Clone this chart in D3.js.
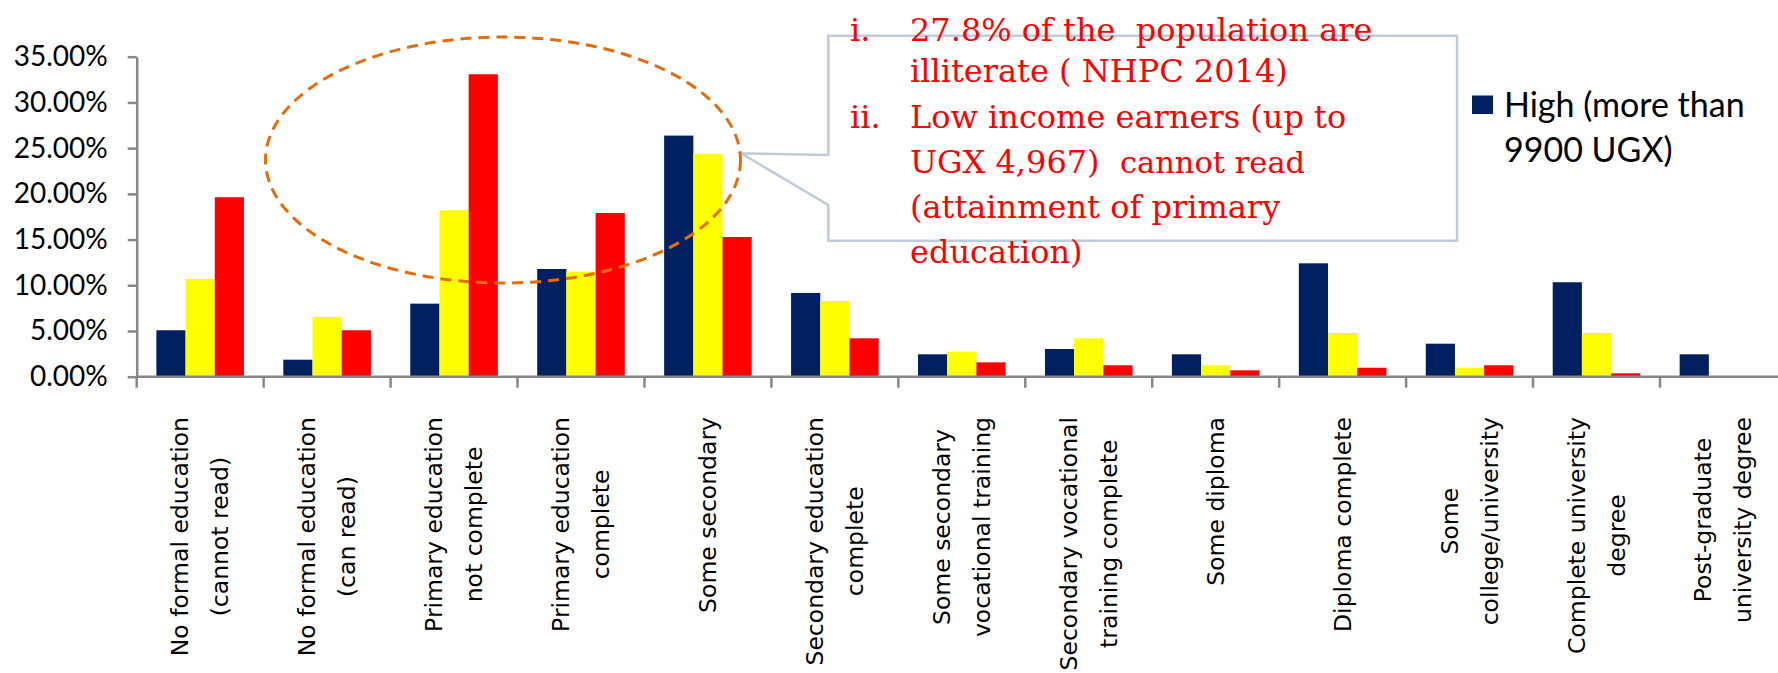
<!DOCTYPE html>
<html><head><meta charset="utf-8">
<script src="https://cdn.jsdelivr.net/npm/d3@7"></script>
<style>html,body{margin:0;padding:0;background:#fff;} svg{display:block;background:#fff}</style>
</head><body>
<svg id="chart" width="1778" height="673"></svg>
<script>
// ---------- data ----------
const categories = [
  "No formal education\n(cannot read)",
  "No formal education\n(can read)",
  "Primary education\nnot complete",
  "Primary education\ncomplete",
  "Some secondary",
  "Secondary education\ncomplete",
  "Some secondary\nvocational training",
  "Secondary vocational\ntraining complete",
  "Some diploma",
  "Diploma complete",
  "Some\ncollege/university",
  "Complete university\ndegree",
  "Post-graduate\nuniversity degree"
];
const seriesNames = ["High (more than 9900 UGX)", "Middle", "Low (up to UGX 4,967)"];
const highIncome   = [0.0508, 0.0186, 0.0799, 0.1178, 0.2637, 0.0916, 0.0245, 0.0303, 0.0245, 0.1240, 0.0361, 0.1033, 0.0245];
const middleIncome = [0.1069, 0.0653, 0.1820, 0.1149, 0.2437, 0.0828, 0.0274, 0.0420, 0.0125, 0.0478, 0.0098, 0.0478, 0.0005];
const lowIncome    = [0.1963, 0.0508, 0.3308, 0.1791, 0.1528, 0.0420, 0.0157, 0.0125, 0.0070, 0.0098, 0.0125, 0.0037, 0.0000];
const seriesColors = ["#002060", "#FFFF00", "#FF0000"];
const yTickValues = [0, 0.05, 0.10, 0.15, 0.20, 0.25, 0.30, 0.35];
const legendShown = ["High (more than", "9900 UGX)"];
const noteItems = [
  {marker: "i.",  lines: [["27.8% of the  population are"], ["illiterate ( NHPC 2014)"]]},
  {marker: "ii.", lines: [["Low income earners (up to"], ["UGX 4,967)  ", "cannot read"], ["(attainment of primary"], ["education)"]]}
];

// ---------- layout ----------
const svg = d3.select("#chart");
const axisColor = "#878787";
const plotLeft = 136.7, catStep = 126.94;
const x = d3.scaleBand().domain(categories)
  .range([plotLeft, plotLeft + catStep * categories.length])
  .paddingInner(0.31).paddingOuter(0.155);
const xs = d3.scaleBand().domain(seriesNames).range([0, x.bandwidth()]);
const y = d3.scaleLinear().domain([0, 0.35]).range([376.7, 56.7]);
const seriesValues = [highIncome, middleIncome, lowIncome];

// bars
const groups = svg.append("g").selectAll("g").data(categories).join("g")
  .attr("transform", d => `translate(${x(d)},0)`);
groups.selectAll("rect")
  .data((d, i) => seriesNames.map((s, k) => ({s, k, v: seriesValues[k][i]})))
  .join("rect")
  .attr("x", d => xs(d.s))
  .attr("width", xs.bandwidth())
  .attr("y", d => y(d.v))
  .attr("height", d => y(0) - y(d.v))
  .attr("fill", d => seriesColors[d.k]);

// x axis line + boundary ticks
const xAxis = svg.append("g");
const xRange = x.range();
xAxis.append("line").attr("x1", xRange[0]).attr("x2", xRange[1])
  .attr("y1", y(0)).attr("y2", y(0))
  .attr("stroke", axisColor).attr("stroke-width", 2.5);
const boundaries = categories.map(c => x(c) - x.step() * x.paddingInner() / 2);
xAxis.selectAll("line.tk").data(boundaries).join("line").attr("class", "tk")
  .attr("x1", d => d).attr("x2", d => d)
  .attr("y1", y(0)).attr("y2", y(0) + 11)
  .attr("stroke", axisColor).attr("stroke-width", 2.5);

// y axis
const yAxis = svg.append("g").attr("transform", `translate(${plotLeft},0)`)
  .call(d3.axisLeft(y).tickValues(yTickValues).tickFormat(d3.format(".2%"))
    .tickSize(9).tickSizeOuter(0).tickPadding(20));
yAxis.select(".domain").attr("stroke", axisColor).attr("stroke-width", 2.5);
yAxis.selectAll(".tick line").attr("stroke", axisColor).attr("stroke-width", 2.5);
yAxis.selectAll(".tick text").attr("fill", "#000")
  .style("font-family", "Lato, 'Open Sans', sans-serif").style("font-size", "28px");

// category labels (rotated)
const labelTop = 417, lineGap = 40;
const labels = svg.append("g").style("font-family", "'DejaVu Sans', sans-serif")
  .style("font-size", "23.5px").attr("fill", "#000");
categories.forEach(c => {
  const lines = c.split("\n");
  const cx = x(c) + x.bandwidth() / 2;
  const widths = lines.map(l => {
    const t = labels.append("text").text(l);
    const w = t.node().getComputedTextLength();
    t.remove();
    return w;
  });
  const cy = labelTop + d3.max(widths) / 2;
  lines.forEach((l, i) => {
    const lx = cx + (i - (lines.length - 1) / 2) * lineGap;
    labels.append("text").text(l)
      .attr("text-anchor", "middle")
      .attr("dominant-baseline", "central")
      .attr("transform", `translate(${lx},${cy}) rotate(-90)`);
  });
});

// callout box with pointer
const bx0 = 828.3, bx1 = 1457, by0 = 35.7, by1 = 240.7;
const p = d3.path();
p.moveTo(bx0, by0); p.lineTo(bx1, by0); p.lineTo(bx1, by1); p.lineTo(bx0, by1);
p.lineTo(bx0, 205); p.lineTo(741, 153.3); p.lineTo(bx0, 155); p.closePath();
svg.append("path").attr("d", p.toString()).attr("fill", "#fff")
  .attr("stroke", "#BFCBDA").attr("stroke-width", 2.5).attr("stroke-linejoin", "miter");

// dashed ellipse
svg.append("ellipse").attr("cx", 503).attr("cy", 160).attr("rx", 237.5).attr("ry", 123)
  .attr("fill", "none").attr("stroke", "#E46C0A").attr("stroke-width", 3)
  .attr("stroke-dasharray", "11,7");

// callout text
const note = svg.append("g").style("font-family", "'DejaVu Serif', serif")
  .style("font-size", "32px").attr("fill", "#FF0000");
const baselines = [40.5, 82, 128, 173, 218, 263];
let li = 0;
noteItems.forEach(item => {
  note.append("text").attr("x", 850).attr("y", baselines[li]).text(item.marker);
  item.lines.forEach(parts => {
    const t = note.append("text").attr("x", 910).attr("y", baselines[li]).attr("xml:space", "preserve");
    parts.forEach((part, j) => {
      const ts = t.append("tspan").text(part);
      if (j > 0) ts.style("font-size", "30.5px");
    });
    li++;
  });
});

// legend (first entry visible)
const legend = svg.append("g");
legend.append("rect").attr("x", 1472).attr("y", 95.5).attr("width", 21).attr("height", 18.5)
  .attr("fill", seriesColors[0]);
legend.selectAll("text").data(legendShown).join("text")
  .attr("x", 1504).attr("y", (d, i) => 116.7 + i * 45)
  .style("font-family", "Lato, 'Open Sans', sans-serif").style("font-size", "34px")
  .attr("fill", "#000").text(d => d);
</script>
</body></html>
